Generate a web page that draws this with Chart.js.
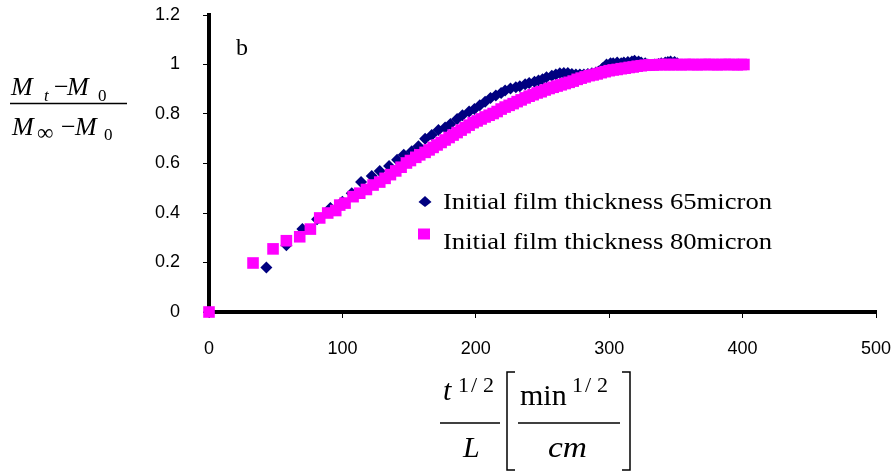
<!DOCTYPE html>
<html>
<head>
<meta charset="utf-8">
<script src="https://cdn.jsdelivr.net/npm/chart.js@4/dist/chart.umd.min.js"></script>
<style>
  html, body { margin: 0; padding: 0; background: #fff; }
  #wrap { width: 893px; height: 473px; }
</style>
</head>
<body>
<div id="wrap"><canvas id="c" width="893" height="473"></canvas></div>
<script>
// Sorption uptake vs. t^(1/2)/L for two initial film thicknesses
const xTicks = [0, 100, 200, 300, 400, 500];
const yTicks = [0, 0.2, 0.4, 0.6, 0.8, 1, 1.2];

const series65Label = 'Initial film thickness 65micron';
const series65X = [0, 43, 58, 70, 81, 91, 100, 107, 114, 122,
  128, 135, 141, 146, 152, 157, 162, 167, 172, 177,
  181, 186, 190, 195, 199, 203, 207, 211, 215, 219,
  222, 226, 230, 233, 237, 240, 244, 247, 250, 253,
  257, 260, 263, 266, 269, 272, 275, 278, 281, 284,
  287, 290, 292, 295, 298, 301, 303, 306, 309, 311,
  314, 317, 319, 322, 324, 327, 329, 332, 334, 337,
  339, 342, 344, 346, 349, 351];
const series65Y = [0, 0.18, 0.27, 0.335, 0.375, 0.42, 0.445, 0.48, 0.525, 0.55,
  0.57, 0.59, 0.615, 0.635, 0.65, 0.67, 0.70, 0.715, 0.735, 0.745,
  0.76, 0.78, 0.795, 0.81, 0.82, 0.835, 0.85, 0.865, 0.875, 0.885,
  0.895, 0.903, 0.908, 0.912, 0.92, 0.925, 0.93, 0.935, 0.94, 0.948,
  0.955, 0.96, 0.965, 0.966, 0.966, 0.962, 0.96, 0.96, 0.96, 0.962,
  0.965, 0.968, 0.972, 0.985, 1.0, 1.005, 1.005, 1.008, 1.005, 1.008,
  1.01, 1.012, 1.015, 1.012, 1.008, 1.005, 1.0, 0.998, 1.0, 1.002,
  1.005, 1.008, 1.01, 1.012, 1.01, 1.005];

const series80Label = 'Initial film thickness 80micron';
const series80X = [0, 33, 48, 58, 68, 76, 83, 89, 95, 98,
  102, 108, 113, 118, 123, 128, 132, 136, 140, 144,
  148, 151, 155, 158, 162, 165, 168, 171, 174, 177,
  180, 183, 186, 189, 192, 195, 198, 201, 204, 207,
  210, 213, 216, 219, 222, 225, 228, 231, 234, 237,
  240, 243, 246, 249, 252, 255, 258, 261, 264, 267,
  270, 273, 276, 279, 282, 285, 288, 291, 294, 297,
  300, 303, 306, 309, 312, 315, 318, 321, 324, 327,
  330, 333, 336, 339, 342, 345, 348, 351, 354, 357,
  360, 363, 366, 369, 372, 375, 378, 381, 384, 387,
  390, 393, 396, 399, 401];
const series80Y = [0, 0.198, 0.255, 0.288, 0.304, 0.335, 0.38, 0.40, 0.41, 0.432,
  0.44, 0.466, 0.48, 0.495, 0.513, 0.525, 0.54, 0.555, 0.57, 0.585,
  0.602, 0.612, 0.625, 0.635, 0.645, 0.655, 0.665, 0.675, 0.685, 0.695,
  0.705, 0.715, 0.725, 0.735, 0.745, 0.755, 0.765, 0.772, 0.78, 0.788,
  0.795, 0.802, 0.81, 0.82, 0.828, 0.835, 0.842, 0.85, 0.857, 0.865,
  0.872, 0.878, 0.885, 0.89, 0.897, 0.903, 0.908, 0.913, 0.918, 0.923,
  0.928, 0.933, 0.94, 0.945, 0.95, 0.955, 0.958, 0.962, 0.967, 0.971,
  0.975, 0.978, 0.98, 0.983, 0.985, 0.988, 0.99, 0.993, 0.995, 0.997,
  0.998, 0.998, 0.999, 1.0, 1.0, 0.999, 1.0, 1.0, 0.999, 1.0,
  1.0, 1.0, 0.999, 1.0, 1.0, 1.0, 1.0, 0.999, 1.0, 1.0,
  1.0, 1.0, 0.999, 1.0, 1.0];

const panelLetter = 'b';

const NAVY = '#000080';
const MAGENTA = '#FF00FF';
const SERIF = '"Liberation Serif", "Times New Roman", serif';
const SANS = '"Liberation Sans", Arial, sans-serif';

const toPoints = (xs, ys) => xs.map((x, i) => ({ x, y: ys[i] }));

// Axis titles (stacked fractions), panel letter and the in-plot legend
const decorations = {
  id: 'decorations',
  afterDraw(chart) {
    const ctx = chart.ctx;
    ctx.save();
    ctx.fillStyle = '#000';
    ctx.strokeStyle = '#000';
    ctx.textBaseline = 'alphabetic';
    ctx.textAlign = 'left';
    const put = (txt, x, y, font) => { ctx.font = font; ctx.fillText(txt, x, y); };
    // text drawn across a given width (slightly wide serif face)
    const putWide = (txt, x, y, font, width) => {
      ctx.font = font;
      const w = ctx.measureText(txt).width;
      ctx.save();
      ctx.translate(x, y);
      ctx.scale(width / w, 1);
      ctx.fillText(txt, 0, 0);
      ctx.restore();
    };
    const hline = (x1, x2, y, w) => {
      ctx.lineWidth = w; ctx.beginPath(); ctx.moveTo(x1, y); ctx.lineTo(x2, y); ctx.stroke();
    };

    // y title: (M_t - M_0) / (M_inf - M_0)
    const big = 'italic 26px ' + SERIF;
    const up = '26px ' + SERIF;
    const sub = '17px ' + SERIF;
    const subI = 'italic 17px ' + SERIF;
    put('M', 11, 95, big);
    put('t', 44, 101, subI);
    put('\u2212', 54, 95, up);
    put('M', 67, 95, big);
    put('0', 98, 101, sub);
    hline(10, 127, 103.5, 1.3);
    put('M', 12, 135, big);
    put('\u221E', 37, 140, '23px ' + SERIF);
    put('\u2212', 61, 135, up);
    put('M', 75, 135, big);
    put('0', 104, 140, sub);

    // x title: t^(1/2)/L [min^(1/2)/cm]
    const xt = 'italic 30px ' + SERIF;
    const xu = '30px ' + SERIF;
    const sup = '22px ' + SERIF;
    put('t', 443, 400, xt);
    put('1', 458, 392, sup);
    put('/', 471, 392, sup);
    put('2', 483, 392, sup);
    hline(440, 500, 423, 1.3);
    put('L', 463, 457, xt);
    put('min', 520, 405, xu);
    put('1', 572, 392, sup);
    put('/', 585, 392, sup);
    put('2', 597, 392, sup);
    hline(518, 620, 423, 1.3);
    putWide('cm', 548, 457, xt, 39);
    ctx.lineWidth = 1.5;
    ctx.beginPath();
    ctx.moveTo(515, 372); ctx.lineTo(507, 372); ctx.lineTo(507, 470); ctx.lineTo(515, 470);
    ctx.moveTo(622, 372); ctx.lineTo(630, 372); ctx.lineTo(630, 470); ctx.lineTo(622, 470);
    ctx.stroke();

    // panel letter
    put(panelLetter, 236, 55, '24px ' + SERIF);

    // legend
    ctx.fillStyle = NAVY;
    ctx.beginPath();
    ctx.moveTo(425, 196); ctx.lineTo(431.5, 202); ctx.lineTo(425, 207); ctx.lineTo(418.5, 202);
    ctx.closePath(); ctx.fill();
    ctx.fillStyle = MAGENTA;
    ctx.fillRect(418, 228.5, 12, 11);
    ctx.fillStyle = '#000';
    putWide(series65Label, 443, 209, '23.5px ' + SERIF, 329);
    putWide(series80Label, 443, 249, '23.5px ' + SERIF, 329);
    ctx.restore();
  }
};

Chart.defaults.font.family = SANS;
Chart.defaults.font.size = 18;
Chart.defaults.color = '#000';

const noScalePad = s => { s.paddingTop = 0; s.paddingBottom = 0; s.paddingLeft = 0; s.paddingRight = 0; };

new Chart(document.getElementById('c'), {
  type: 'scatter',
  data: {
    datasets: [
      {
        label: series65Label,
        data: toPoints(series65X, series65Y),
        pointStyle: 'rectRot',
        pointRadius: 6,
        backgroundColor: NAVY,
        borderColor: NAVY,
        borderWidth: 0,
        clip: false,
        order: 2
      },
      {
        label: series80Label,
        data: toPoints(series80X, series80Y),
        pointStyle: 'rect',
        pointRadius: 8.2,
        backgroundColor: MAGENTA,
        borderColor: MAGENTA,
        borderWidth: 0,
        clip: false,
        order: 1
      }
    ]
  },
  options: {
    responsive: false,
    animation: false,
    layout: { padding: { top: 15, right: 17, left: 0, bottom: 0 } },
    plugins: { legend: { display: false }, tooltip: { enabled: false } },
    scales: {
      x: {
        type: 'linear',
        min: xTicks[0],
        max: xTicks[xTicks.length - 1],
        afterBuildTicks: s => { s.ticks = xTicks.map(v => ({ value: v })); },
        afterFit: s => { s.height = 161; noScalePad(s); },
        border: { display: true, color: '#000', width: 4 },
        grid: { drawOnChartArea: false, drawTicks: true, tickLength: 6, color: '#000', lineWidth: 1 },
        ticks: { padding: 20, maxRotation: 0, font: { size: 18 } }
      },
      y: {
        type: 'linear',
        min: yTicks[0],
        max: yTicks[yTicks.length - 1],
        afterBuildTicks: s => { s.ticks = yTicks.map(v => ({ value: v })); },
        afterFit: s => { s.width = 209; noScalePad(s); },
        border: { display: true, color: '#000', width: 4 },
        grid: { drawOnChartArea: false, drawTicks: true, tickLength: 6, color: '#000', lineWidth: 1 },
        ticks: { padding: 23, font: { size: 18 }, callback: v => String(Math.round(v * 10) / 10) }
      }
    }
  },
  plugins: [decorations]
});
</script>
</body>
</html>
